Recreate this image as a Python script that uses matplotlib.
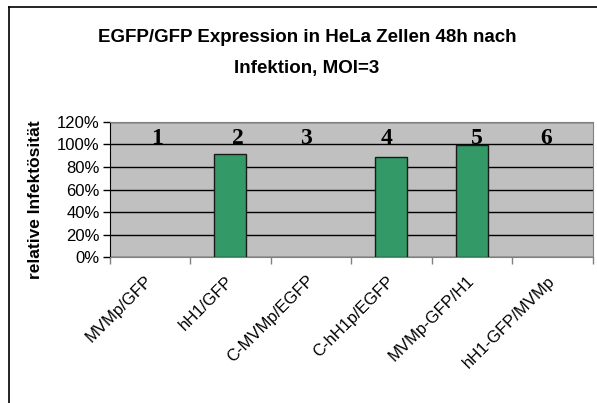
import matplotlib.pyplot as plt
from matplotlib.lines import Line2D

# Daten
kategorien = ["MVMp/GFP", "hH1/GFP", "C-MVMp/EGFP", "C-hH1p/EGFP", "MVMp-GFP/H1", "hH1-GFP/MVMp"]
werte = [0, 91, 0, 89, 99, 0]
nummern = ["1", "2", "3", "4", "5", "6"]
nummer_x = [0.09, 1.09, 1.94, 2.94, 4.06, 4.93]
y_ticks = [0, 20, 40, 60, 80, 100, 120]

plt.rcParams['font.family'] = ['Liberation Sans', 'DejaVu Sans']

fig = plt.figure(figsize=(5.97, 4.03), dpi=100)
ax = fig.add_axes([109.5 / 597, 1 - 257.3 / 403, 483 / 597, 135.6 / 403])

ax.set_facecolor("#C0C0C0")
# Balken mit Wert 0 werden in Excel nicht gezeichnet -> keine Kante
ax.bar(range(len(kategorien)), werte, width=0.4, color="#339966", edgecolor="#1a1a1a",
       linewidth=[1 if v > 0 else 0 for v in werte], zorder=3)

ax.set_xlim(-0.5, len(kategorien) - 0.5)
ax.set_ylim(0, 120)
ax.set_yticks(y_ticks)
ax.set_yticklabels([f"{v}%" for v in y_ticks], fontsize=12)
ax.yaxis.grid(True, color="black", linewidth=1, zorder=1)
ax.set_axisbelow(True)

# Ticks zwischen den Kategorien
ax.set_xticks([i - 0.5 for i in range(len(kategorien) + 1)])
ax.set_xticklabels([])
ax.tick_params(axis="x", length=5, width=1, color="#808080")
ax.tick_params(axis="y", length=5, width=1, pad=2)

for i, name in enumerate(kategorien):
    ax.text(i - 0.06, -14, name, rotation=45, ha="right", va="top",
            rotation_mode="anchor", fontsize=12)

for x, n in zip(nummer_x, nummern):
    ax.text(x, 100, n, ha="center", va="baseline", fontsize=17,
            fontweight="bold", family="Liberation Serif", zorder=4)

for s in ["top", "right"]:
    ax.spines[s].set_color("#808080")
ax.spines["left"].set_color("black")
ax.spines["bottom"].set_color("#808080")

fig.text(307 / 597, 1 - 38 / 403, "EGFP/GFP Expression in HeLa Zellen 48h nach",
         ha="center", va="center", fontsize=13.5, fontweight="bold")
fig.text(307 / 597, 1 - 69 / 403, "Infektion, MOI=3",
         ha="center", va="center", fontsize=13.5, fontweight="bold")
fig.text(36 / 597, 1 - 200 / 403, "relative Infektösität", rotation=90,
         ha="center", va="center", fontsize=12.5, fontweight="bold")

# Rahmen links und oben
fig.add_artist(Line2D([8.5 / 597, 8.5 / 597], [0, 1 - 6.5 / 403], color="black", linewidth=1.2))
fig.add_artist(Line2D([8.5 / 597, 1], [1 - 6.5 / 403, 1 - 6.5 / 403], color="black", linewidth=1.2))

fig.savefig("out.png", dpi=100)
